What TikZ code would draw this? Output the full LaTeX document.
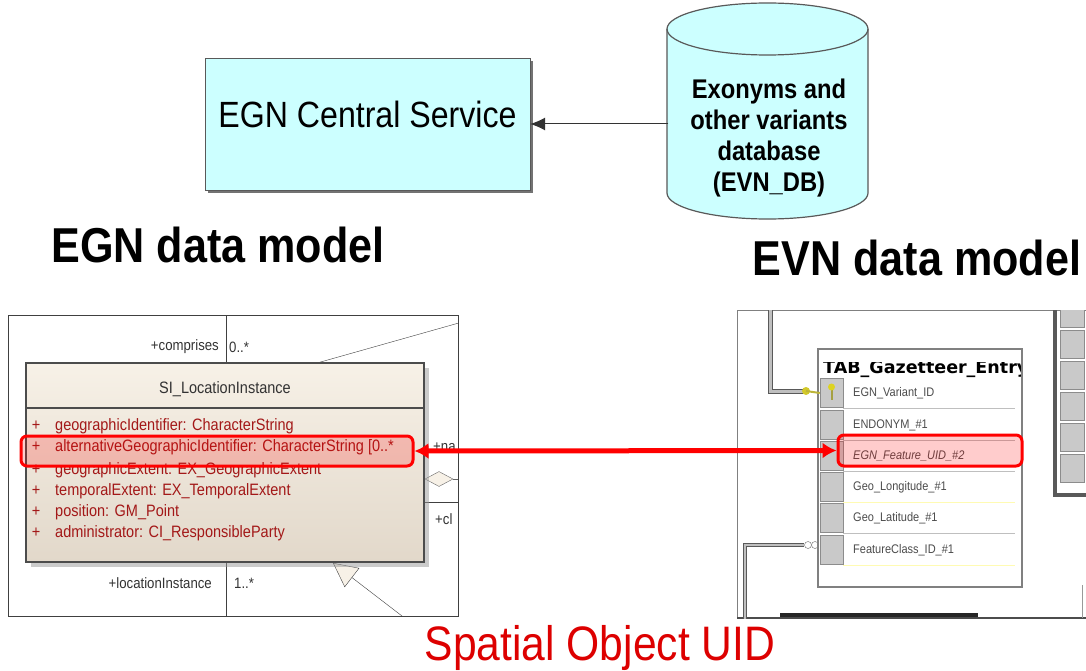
\documentclass[tikz,border=0pt]{standalone}
\usepackage{fontspec}
\setmainfont[FakeStretch=0.88]{Liberation Sans}
\newfontfamily\tabfont{DejaVu Sans}
\usetikzlibrary{arrows.meta,shapes.geometric,shadows,positioning}
\definecolor{dbcyan}{HTML}{CCFFFF}
\definecolor{umlred}{HTML}{A31818}
\definecolor{uidred}{HTML}{DD0000}
\definecolor{beigetop}{HTML}{F7F1E7}
\definecolor{beigebot}{HTML}{E2D8CA}
\definecolor{btngrey}{HTML}{C9C9C9}

\begin{document}
\begin{tikzpicture}[x=1pt,y=-1pt,
    service/.style={draw=black!65,fill=dbcyan,minimum width=325pt,minimum height=132pt,text depth=19pt,
        drop shadow={shadow xshift=3pt,shadow yshift=-3pt,opacity=1,fill=black!55}},
    umlclass/.style={draw=black!70,line width=1.2pt,top color=beigetop,bottom color=beigebot,
        minimum width=398pt,minimum height=199pt,
        drop shadow={shadow xshift=5pt,shadow yshift=-5pt,opacity=0.5,fill=black!40}},
    umltext/.style={font=\fontsize{15}{15}\selectfont,text=black!80,inner sep=1pt},
    attrtext/.style={font=\fontsize{16.5}{16.5}\selectfont,text=umlred,anchor=west,inner sep=0pt},
    hl/.style={draw=red,line width=3pt,rounded corners=6pt,fill=red,fill opacity=0.2,inner sep=0pt},
    pipe/.style={draw=black!65,double=black!25,double distance=3pt,line width=1pt},
    btn/.style={draw=black!45,fill=btngrey,minimum width=23pt,minimum height=29pt,inner sep=0pt},
    fieldtext/.style={font=\fontsize{12.5}{12.5}\selectfont,text=black!70,anchor=west,inner sep=0pt},
    modeltitle/.style={font=\bfseries\fontsize{49}{52}\selectfont}]
\fill[white] (0,0) rectangle (1086,671);
\useasboundingbox (0,0) rectangle (1086,671);

\node[service] (egn) at (367.5,124) {\fontsize{36.5}{40}\selectfont EGN Central Service};
\filldraw[fill=dbcyan,draw=black!65,line width=1.2pt] (667,29) -- (667,193)
    arc[start angle=180,end angle=360,x radius=100.5pt,y radius=26pt] -- (868,29)
    arc[start angle=0,end angle=180,x radius=100.5pt,y radius=26pt] -- cycle;
\draw[black!65,line width=1.2pt] (667,29) arc[start angle=180,end angle=360,x radius=100.5pt,y radius=26pt];
\node[align=center,minimum width=201pt,inner sep=0pt,font=\bfseries\fontsize{27}{31}\selectfont]
    (evndb) at (769,138) {Exonyms and\\other variants\\database\\(EVN\_DB)};
\draw[black!80,line width=1pt,-{Latex[length=15pt,width=13pt]}] (evndb.west |- egn.east) -- (egn.east);

\node[modeltitle] (egnmodel) at (218,245) {EGN data model};
\node[modeltitle] (evnmodel) at (917,258) {EVN data model};
\node[text=uidred,font=\fontsize{48.4}{50}\selectfont] (uid) at (600,648) {Spatial Object UID};

\draw[black!75,line width=1pt] (8,315) rectangle (458,616);
\draw[black!75] (226,315) -- (226,363);
\draw[black!75] (226,562) -- (226,616);
\node[umltext,anchor=east] (comprises) at (220,347) {+comprises};
\node[umltext,anchor=west] (compmult) at (228,347) {0..*};
\node[umltext,anchor=east] (locinst) at (213,583) {+locationInstance};
\node[umltext,anchor=west] (locmult) at (233,583) {1..*};
\begin{scope}
\clip (8,315) rectangle (458,616);
\coordinate (assoctop) at (317,363);
\coordinate (assocend) at (480,317);
\draw[black!75] (assoctop) -- (assocend);
\node[umltext,anchor=west] (natext) at (432,447) {+na};
\node[umltext,anchor=west] (cltext) at (434,519) {+cl};
\node[diamond,draw=black!60,fill=beigetop,minimum width=28pt,minimum height=15pt,inner sep=0pt] (agg) at (439,479) {};
\coordinate (aggend) at (458,479);
\draw[black!60] (agg.east) -- (aggend);
\draw[black!75] (424,502) -- (458,502);
\coordinate (genfoot) at (402,616);
\coordinate (gentip) at (333,563);
\draw[black!75,-{Triangle[open,length=24pt,width=24pt,fill=beigetop]}] (genfoot) -- (gentip);
\end{scope}

\node[umlclass] (loc) at (225,462.5) {};
\draw[black!70,line width=1.2pt] (26,408) -- (424,408);
\node[font=\fontsize{16.5}{16.5}\selectfont,text=black!80] (lochead) at (225,389) {SI\_LocationInstance};
\foreach \yy/\attr [count=\i] in {426/geographicIdentifier: CharacterString,
    447/alternativeGeographicIdentifier: CharacterString [0..*,
    470/geographicExtent: EX\_GeographicExtent,
    491/temporalExtent: EX\_TemporalExtent,
    512/position: GM\_Point,
    533/administrator: CI\_ResponsibleParty}
{
  \node[attrtext,anchor=center] (plus\i) at (36,\yy) {+};
  \node[attrtext] (attr\i) at (55,\yy) {\attr};
}
\node[hl,minimum width=392pt,minimum height=30pt] (althl) at (217,451) {};

\draw[black!50] (737,310) -- (1086,310);
\draw[black!50] (737,310) -- (737,618);
\draw[black!70,line width=2.5pt] (737,618) -- (1086,618);
\begin{scope}
\clip (737,310) rectangle (1086,618);
\coordinate (pipetop) at (770,300);
\coordinate (keyc) at (806,391);
\draw[pipe] (pipetop) |- (keyc);
\draw[black!65,line width=4pt] (1055,300) -- (1055,495) -- (1090,495);
\foreach \yy [count=\i] in {299,330,361,392,423,454}
  \node[btn,minimum width=24pt,minimum height=28pt,anchor=north] (rbtn\i) at (1072,\yy) {};
\draw[black!85,line width=4pt] (780,615) -- (978,615);
\draw[black!40] (1082,585) -- (1082,618);
\node[circle,draw=black!60,fill=white,minimum size=7pt,inner sep=0pt] (ring1) at (808,545) {};
\node[circle,draw=black!60,fill=white,minimum size=7pt,inner sep=0pt] (ring2) at (815,545) {};
\coordinate (pipebot) at (745,630);
\draw[pipe,double distance=1.5pt] (pipebot) |- (ring1);
\end{scope}

\node[draw=black!50,line width=2.5pt,fill=white,minimum width=204pt,minimum height=238pt] (gaz) at (920,468) {};
\begin{scope}
\clip (820,362) rectangle (1020,587);
\node[anchor=west,inner sep=0pt,font=\tabfont\bfseries\fontsize{17.5}{17.5}\selectfont] (gaztitle) at (823,369) {TAB\_Gazetteer\_Entry};
\end{scope}
\foreach \yy/\fld/\sepcol [count=\i] in {393/EGN\_Variant\_ID/black!25,
    425/ENDONYM\_\#1/black!25,
    456/{\itshape EGN\_Feature\_UID\_\#2}/black!25,
    487/Geo\_Longitude\_\#1/yellow!30,
    518/Geo\_Latitude\_\#1/black!25,
    550/FeatureClass\_ID\_\#1/yellow!30}
{
  \node[btn] (btn\i) at (831.5,\yy) {};
  \node[fieldtext] (fld\i) at (853,\yy) {\fld};
  \draw[\sepcol,line width=1pt] (843,\yy+15.5) -- (1015,\yy+15.5);
}
\fill[yellow!80!black] (keyc) circle[radius=4pt];
\draw[yellow!70!black,line width=2pt] (keyc) -- (btn1.west);
\draw[yellow!60!black,line width=2pt] (btn1.center) ++(0,-6) -- ++(0,13);
\fill[yellow!85!black] (btn1.center) ++(0,-6) circle[radius=3.5pt];
\node[hl,minimum width=184pt,minimum height=31pt] (feathl) at (930,450.5) {};

\draw[red,line width=5pt,{Latex[length=14pt,width=16pt]}-{Latex[length=14pt,width=16pt]}] (althl.east) -- (feathl.west);
\end{tikzpicture}
\end{document}
